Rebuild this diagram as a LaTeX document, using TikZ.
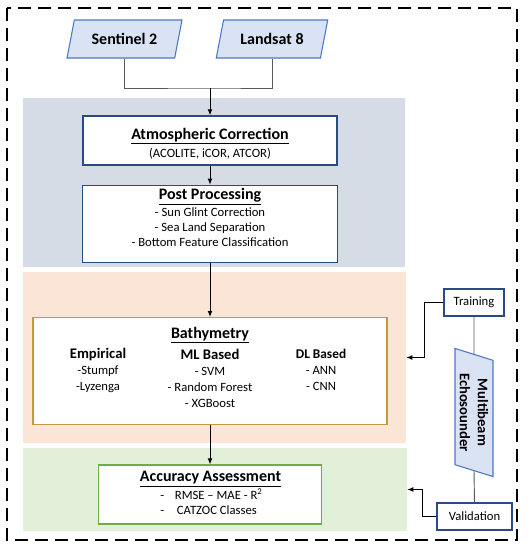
\documentclass[tikz,border=0pt]{standalone}
\usepackage{fontspec}
\setmainfont{Carlito}
\usetikzlibrary{positioning, calc, arrows.meta, shapes.geometric}

\definecolor{bandblue}{HTML}{D6DCE5}
\definecolor{bandorange}{HTML}{FBE5D6}
\definecolor{bandgreen}{HTML}{E2F0D9}
\definecolor{datafill}{HTML}{DAE3F3}
\definecolor{datablue}{HTML}{4A78C8}
\definecolor{navy}{HTML}{2A4A85}
\definecolor{gold}{HTML}{C49A3A}
\definecolor{leaf}{HTML}{70AD47}
\definecolor{wire}{HTML}{595959}

\newcommand{\boxhead}[1]{{\fontsize{12}{14}\selectfont\bfseries\underline{#1}}}
\newcommand{\methodhead}{\fontsize{11}{12}\selectfont\bfseries}

\begin{document}
\begin{tikzpicture}[
  x=0.75pt, y=-0.75pt,
  font=\fontsize{9.5}{11.3}\selectfont,
  >=Latex,
  band/.style={rectangle, inner sep=0pt, draw=none},
  stage/.style={rectangle, draw=navy, line width=1pt, fill=white, inner sep=2pt, align=center},
  source/.style={trapezium, trapezium left angle=75, trapezium right angle=105, trapezium stretches=true,
    draw=datablue, fill=datafill, line width=0.8pt, minimum height=28.5pt, font=\fontsize{12}{14}\selectfont\bfseries},
  refbox/.style={rectangle, draw=navy, line width=1pt, fill=white, minimum height=20.25pt, inner sep=1pt},
  method/.style={align=center, font=\fontsize{9.5}{12}\selectfont},
  link/.style={draw=wire, line width=0.7pt},
  arrow/.style={-{Latex[length=4.5pt, width=3.6pt]}, line width=0.7pt},
  frame/.style={dash pattern=on 9.75pt off 5.25pt, line width=1.5pt}
]
\useasboundingbox (0,0) rectangle (529,550);

%--------------------------------------
% Background bands
%--------------------------------------
\node[band, fill=bandblue, minimum width=286.5pt, minimum height=126.75pt] (topband) at (214,182.5) {};
\node[band, fill=bandorange, minimum width=287.25pt, minimum height=128.25pt] (midband) at (214.5,357.5) {};
\node[band, fill=bandgreen, minimum width=288pt, minimum height=62.25pt] (lowband) at (215,489.5) {};

\draw[frame] (7,8) rectangle (517,540);

%--------------------------------------
% Satellite sources
%--------------------------------------
\node[source, minimum width=86.25pt] (sentinel) at (124.5,39) {Sentinel 2};
\node[source, minimum width=84pt] (landsat) at (272,39) {Landsat 8};
\coordinate (merge) at (210,88);

%--------------------------------------
% Processing chain
%--------------------------------------
\node[stage, minimum width=190.5pt, minimum height=36.75pt] (atmos) at (210,140.5) {};
\node[stage, minimum width=191.25pt, minimum height=57.75pt, below=14.25pt of atmos] (post) {};
\node[stage, draw=gold, minimum width=265.5pt, minimum height=80.25pt, below=40.5pt of post] (bathy) {};
\node[stage, draw=leaf, minimum width=167.25pt, minimum height=44.25pt, below=29.25pt of bathy] (accuracy) {};

% Stage texts
\node[align=center] (atmostext) at (210,143.5) {\boxhead{Atmospheric Correction}\\[2pt](ACOLITE, iCOR, ATCOR)};
\node[align=center] (posttext) at (210,217.5)
  {\boxhead{Post Processing}\\[1pt]- Sun Glint Correction\\- Sea Land Separation\\- Bottom Feature Classification};

% Bathymetry contents
\node (bathytitle) at (210,335) {\boxhead{Bathymetry}};
\node[method] (empirical) at (98,370.5) {{\methodhead Empirical}\\-Stumpf\\-Lyzenga};
\node[method] (mlbased) at (210,378) {{\methodhead ML Based}\\- SVM\\- Random Forest\\- XGBoost};
\node[method] (dlbased) at (321,369.5) {{\fontsize{10}{12}\selectfont\bfseries DL Based}\\- ANN\\- CNN};

% Accuracy contents
\node (acctitle) at (210.5,479) {\boxhead{Accuracy Assessment}};
\node[align=left, inner sep=0pt] (metrics) at (211.5,501.5)
  {-\hspace{8pt}RMSE – MAE - R\textsuperscript{2}\\-\hspace{9.5pt}CATZOC Classes};

%--------------------------------------
% Reference data
%--------------------------------------
\node[refbox, minimum width=45pt] (training) at (474,302.5) {Training};
\node[trapezium, trapezium left angle=75, trapezium right angle=105, trapezium stretches=true,
  rotate=-90, draw=datablue, fill=datafill, line width=0.8pt, minimum width=96.75pt, minimum height=28.5pt,
  align=center, font=\fontsize{11}{13.5}\selectfont\bfseries] (echo) at (474,412.5) {Multibeam\\Echosounder};
\node[refbox, minimum width=56.25pt] (validation) at (474.5,516.5) {Validation};

%--------------------------------------
% Connections
%--------------------------------------
\draw[link] (sentinel.south) |- (merge) -| (landsat.south);
\draw[arrow] (merge) -- (atmos.north);
\draw[arrow] (atmos.south) -- (post.north);
\draw[arrow] (post.south) -- (bathy.north);
\draw[arrow] (bathy.south) -- (accuracy.north);

\draw[link] (training.south) -- (echo.west);
\draw[link] (echo.east) -- (validation.north);
\draw[arrow] (training.west) -- ++(-19,0) |- (midband.east);
\draw[arrow] (validation.west) -- ++(-14,0) |- (lowband.east);

\end{tikzpicture}
\end{document}
